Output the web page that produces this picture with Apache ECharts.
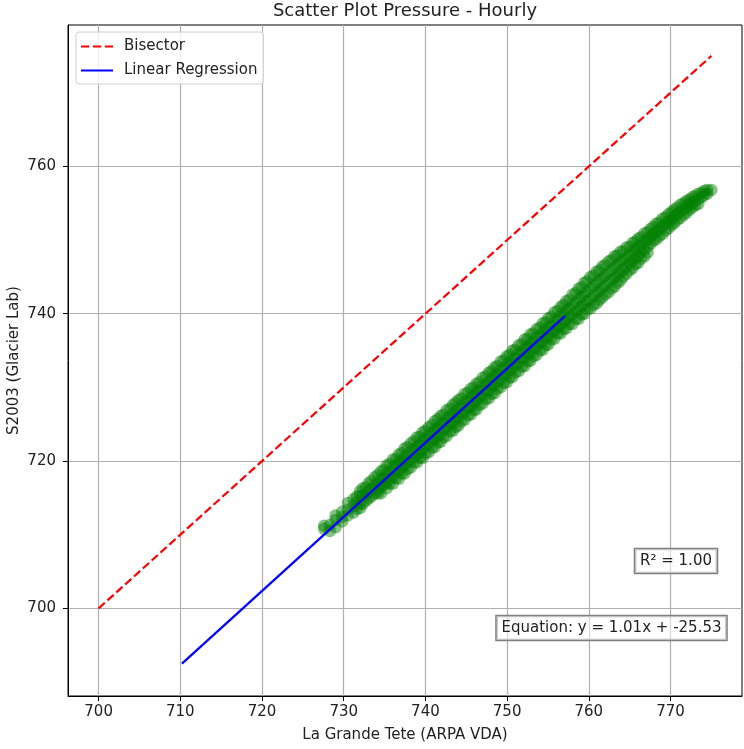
<!DOCTYPE html>
<html>
<head>
<meta charset="utf-8">
<script src="https://cdn.jsdelivr.net/npm/echarts@6/dist/echarts.min.js"></script>
<style>
html,body{margin:0;padding:0;background:#fff;}
#chart{width:744px;height:749px;}
</style>
</head>
<body>
<div id="chart"></div>
<script>
// ---- data ----
var titleText = 'Scatter Plot Pressure - Hourly';
var xAxisName = 'La Grande Tete (ARPA VDA)';
var yAxisName = 'S2003 (Glacier Lab)';
var xTicks = [700, 710, 720, 730, 740, 750, 760, 770];
var yTicks = [700, 720, 740, 760];
var bisectorPoints = [[700, 700], [775, 775]];
var regressionPoints = [[710.2, 692.5], [757.1, 739.7]];
var r2Text = 'R\u00b2 = 1.00';
var equationText = 'Equation: y = 1.01x + -25.53';
var scatterPointsA = [
  [727.6,710.8],[727.6,711.2],
  [728.3,711.3],[728.3,710.5],
  [729.0,712.0],[729.0,711.0],[729.0,712.6],
  [729.8,713.1],[729.8,712.4],[729.8,711.8],
  [730.5,714.3],[730.5,713.4],[730.5,712.6],
  [731.2,714.8],[731.2,713.9],[731.2,713.0],
  [732.0,715.3],[732.0,714.2],[732.0,713.6],[732.0,715.9],
  [732.7,716.4],[732.7,715.5],[732.7,714.6],
  [733.4,717.3],[733.4,716.2],[733.4,715.2],
  [734.2,718.1],[734.2,717.0],[734.2,716.1],[734.2,715.6],
  [734.9,718.8],[734.9,717.7],[734.9,716.8],
  [735.6,719.6],[735.6,718.6],[735.6,717.6],[735.6,716.9],
  [736.4,720.3],[736.4,719.4],[736.4,718.5],[736.4,717.7],
  [737.1,721.1],[737.1,720.0],[737.1,719.1],[737.1,718.3],
  [737.8,721.9],[737.8,720.8],[737.8,719.8],[737.8,718.9],
  [738.6,722.7],[738.6,721.6],[738.6,720.5],[738.6,719.8],
  [739.3,723.3],[739.3,722.2],[739.3,721.2],[739.3,720.4],
  [740.0,724.1],[740.0,723.0],[740.0,722.0],[740.0,721.0],
  [740.8,724.9],[740.8,723.8],[740.8,722.8],[740.8,721.8],
  [741.5,725.7],[741.5,724.5],[741.5,723.4],[741.5,722.5],
  [742.2,726.3],[742.2,725.2],[742.2,724.2],[742.2,723.2],
  [743.0,727.1],[743.0,726.0],[743.0,725.0],[743.0,724.0],
  [743.7,727.9],[743.7,726.7],[743.7,725.7],[743.7,724.6],
  [744.4,728.5],[744.4,727.4],[744.4,726.4],[744.4,725.4],
  [745.2,729.3],[745.2,728.2],[745.2,727.2],[745.2,726.2],
  [745.9,730.0],[745.9,728.9],[745.9,727.9],[745.9,726.9],
  [746.6,730.7],[746.6,729.6],[746.6,728.6],[746.6,727.6],
  [747.4,731.5],[747.4,730.4],[747.4,729.4],[747.4,728.4],
  [748.1,732.2],[748.1,731.1],[748.1,730.1],[748.1,729.1],
  [748.8,732.9],[748.8,731.8],[748.8,730.8],[748.8,729.8],
  [749.6,733.7],[749.6,732.6],[749.6,731.6],[749.6,730.6],
  [750.3,734.4],[750.3,733.3],[750.3,732.3],[750.3,731.3],
  [751.0,735.1],[751.0,734.0],[751.0,733.0],[751.0,732.0],
  [751.8,735.9],[751.8,734.8],[751.8,733.8],[751.8,732.8],
  [752.5,736.6],[752.5,735.5],[752.5,734.5],[752.5,733.5],
  [753.2,737.3],[753.2,736.2],[753.2,735.2],[753.2,734.2],
  [754.0,738.1],[754.0,737.0],[754.0,736.0],[754.0,735.0],
  [754.7,738.8],[754.7,737.7],[754.7,736.7],[754.7,735.7],
  [755.4,739.6],[755.4,738.4],[755.4,737.4],[755.4,736.5],
  [756.2,740.4],[756.2,739.2],[756.2,738.2],[756.2,737.3],
  [756.9,741.2],[756.9,740.0],[756.9,738.9],[756.9,737.9],
  [757.6,741.9],[757.6,740.7],[757.6,739.6],[757.6,738.6],
  [758.4,742.8],[758.4,741.5],[758.4,740.3],[758.4,739.3],
  [759.1,743.6],[759.1,742.3],[759.1,741.0],[759.1,739.9],
  [759.8,744.4],[759.8,743.0],[759.8,741.7],[759.8,740.6],
  [760.6,745.2],[760.6,743.8],[760.6,742.4],[760.6,741.2],
  [761.3,745.9],[761.3,744.5],[761.3,743.1],[761.3,741.9],
  [762.0,746.6],[762.0,745.2],[762.0,743.8],[762.0,742.6],
  [762.8,747.3],[762.8,745.9],[762.8,744.6],[762.8,743.4],
  [763.5,747.9],[763.5,746.6],[763.5,745.3],[763.5,744.2],
  [764.2,748.5],[764.2,747.3],[764.2,746.0],[764.2,745.0],
  [765.0,749.1],[765.0,748.0],[765.0,746.9],[765.0,745.9],
  [765.7,749.8],[765.7,748.7],[765.7,747.6],[765.7,746.7],
  [766.4,750.4],[766.4,749.4],[766.4,748.4],[766.4,747.5],
  [767.2,751.1],[767.2,750.1],[767.2,749.1],[767.2,748.3],
  [767.9,751.8],[767.9,750.8],[767.9,749.9],
  [768.6,752.4],[768.6,751.4],[768.6,750.5],
  [769.4,753.1],[769.4,752.2],[769.4,751.3],
  [770.1,753.8],[770.1,752.8],[770.1,752.0],
  [770.8,754.4],[770.8,753.5],[770.8,752.7],
  [771.6,755.0],[771.6,754.2],[771.6,753.4],
  [772.3,755.5],[772.3,754.8],[772.3,754.1],
  [773.0,756.0],[773.0,755.3],[773.0,754.7],
  [773.8,756.4],[773.8,755.8],
  [774.5,756.8],[774.5,756.3],
  [775.0,756.8]
];
var scatterPointsB = [
  [731.6,715.2],[731.6,714.4],[731.6,713.5],
  [732.35,716.3],[732.35,715.3],[732.35,714.2],
  [733.05,717.0],[733.05,715.9],[733.05,714.9],
  [733.8,717.8],[733.8,716.7],[733.8,715.6],
  [734.55,718.6],[734.55,717.5],[734.55,716.4],[734.55,715.6],
  [735.25,719.4],[735.25,718.2],[735.25,717.1],[735.25,716.3],
  [736.0,720.2],[736.0,719.0],[736.0,717.9],[736.0,716.9],
  [736.75,720.9],[736.75,719.8],[736.75,718.6],[736.75,717.6],
  [737.45,721.7],[737.45,720.5],[737.45,719.4],[737.45,718.3],
  [738.2,722.4],[738.2,721.2],[738.2,720.1],[738.2,719.1],
  [738.95,723.2],[738.95,722.0],[738.95,720.9],[738.95,719.8],
  [739.65,723.9],[739.65,722.7],[739.65,721.5],[739.65,720.4],
  [740.4,724.6],[740.4,723.4],[740.4,722.3],[740.4,721.2],
  [741.15,725.4],[741.15,724.2],[741.15,723.0],[741.15,721.9],
  [741.85,726.1],[741.85,724.9],[741.85,723.7],[741.85,722.6],
  [742.6,726.9],[742.6,725.6],[742.6,724.5],[742.6,723.4],
  [743.35,727.6],[743.35,726.4],[743.35,725.2],[743.35,724.1],
  [744.05,728.3],[744.05,727.1],[744.05,725.9],[744.05,724.8],
  [744.8,729.1],[744.8,727.9],[744.8,726.7],[744.8,725.6],
  [745.55,729.8],[745.55,728.6],[745.55,727.4],[745.55,726.3],
  [746.25,730.5],[746.25,729.3],[746.25,728.1],[746.25,727.0],
  [747.0,731.3],[747.0,730.1],[747.0,728.9],[747.0,727.8],
  [747.75,732.0],[747.75,730.8],[747.75,729.6],[747.75,728.5],
  [748.45,732.7],[748.45,731.5],[748.45,730.3],[748.45,729.2],
  [749.2,733.5],[749.2,732.3],[749.2,731.1],[749.2,730.0],
  [749.95,734.2],[749.95,733.0],[749.95,731.8],[749.95,730.7],
  [750.65,735.0],[750.65,733.7],[750.65,732.5],[750.65,731.4],
  [751.4,735.7],[751.4,734.5],[751.4,733.3],[751.4,732.2],
  [752.15,736.5],[752.15,735.2],[752.15,734.0],[752.15,732.9],
  [752.85,737.2],[752.85,735.9],[752.85,734.7],[752.85,733.6],
  [753.6,737.9],[753.6,736.7],[753.6,735.5],[753.6,734.4],
  [754.35,738.7],[754.35,737.4],[754.35,736.2],[754.35,735.1],
  [755.05,739.4],[755.05,738.1],[755.05,736.9],[755.05,735.8],
  [755.8,740.2],[755.8,738.9],[755.8,737.7],[755.8,736.6],
  [756.55,740.9],[756.55,739.7],[756.55,738.4],[756.55,737.3],
  [757.25,741.7],[757.25,740.4],[757.25,739.1],[757.25,738.0],
  [758.0,742.6],[758.0,741.2],[758.0,739.9],[758.0,738.6],
  [758.75,743.4],[758.75,742.0],[758.75,740.6],[758.75,739.3],
  [759.45,744.2],[759.45,742.7],[759.45,741.3],[759.45,740.0],
  [760.2,745.0],[760.2,743.5],[760.2,742.0],[760.2,740.7],
  [760.95,745.7],[760.95,744.2],[760.95,742.8],[760.95,741.4],
  [761.65,746.4],[761.65,744.9],[761.65,743.5],[761.65,742.2],
  [762.4,747.1],[762.4,745.6],[762.4,744.2],[762.4,742.9],
  [763.15,747.8],[763.15,746.3],[763.15,744.9],[763.15,743.7],
  [763.85,748.4],[763.85,747.0],[763.85,745.6],[763.85,744.5],
  [764.6,749.0],[764.6,747.6],[764.6,746.4],[764.6,745.4],
  [765.35,749.6],[765.35,748.4],[765.35,747.2],[765.35,746.2],
  [766.05,750.2],[766.05,749.1],[766.05,747.9],[766.05,746.9],
  [766.8,750.9],[766.8,749.8],[766.8,748.7],[766.8,747.8],
  [767.55,751.5],[767.55,750.5],[767.55,749.5],
  [768.25,752.2],[768.25,751.1],[768.25,750.1],
  [769.0,752.9],[769.0,751.8],[769.0,750.8],
  [769.75,753.5],[769.75,752.5],[769.75,751.6],
  [770.45,754.1],[770.45,753.2],[770.45,752.3],
  [771.2,754.8],[771.2,753.9],[771.2,753.0],
  [771.95,755.3],[771.95,754.5],[771.95,753.7],
  [772.65,755.8],[772.65,755.1],[772.65,754.4],
  [773.4,756.3],[773.4,755.6],[773.4,754.9],
  [774.15,756.7],[774.15,756.1]
];
var scatterPoints = scatterPointsA.concat(scatterPointsB);

var FONT = 'DejaVu Sans';
var chart = echarts.init(document.getElementById('chart'), null, {renderer: 'canvas'});
var option = {
  animation: false,
  backgroundColor: '#ffffff',
  textStyle: {fontFamily: FONT},
  grid: {left: 68, right: 2, top: 25, bottom: 53, show: true, borderColor: '#000', borderWidth: 1,
    backgroundColor: 'transparent', containLabel: false, outerBoundsMode: 'none'},
  legend: {
    orient: 'vertical', left: 76, top: 32,
    data: ['Bisector', 'Linear Regression'],
    itemWidth: 32, itemHeight: 14, itemGap: 9,
    padding: [7, 6, 6, 4],
    borderColor: '#d0d0d0', borderWidth: 1, borderRadius: 3,
    backgroundColor: 'rgba(255,255,255,0.8)',
    itemStyle: {opacity: 0},
    textStyle: {fontFamily: FONT, fontSize: 15, color: '#222', padding: [0, 0, 0, 6]}
  },
  xAxis: {
    type: 'value', min: 696.25, max: 778.75,
    name: xAxisName, nameLocation: 'middle', nameGap: 32,
    nameTextStyle: {fontFamily: FONT, fontSize: 15, color: '#222'},
    axisLine: {show: true, lineStyle: {color: '#000', width: 1}},
    axisTick: {show: true, length: 5, lineStyle: {color: '#000'}, customValues: xTicks},
    axisLabel: {fontFamily: FONT, fontSize: 15, color: '#222', margin: 9, customValues: xTicks},
    splitLine: {show: true, lineStyle: {color: '#b0b0b0', width: 1.2}}
  },
  yAxis: {
    type: 'value', min: 688.1, max: 779.2,
    name: yAxisName, nameLocation: 'middle', nameGap: 46, nameMoveOverlap: false,
    nameTextStyle: {fontFamily: FONT, fontSize: 15, color: '#222'},
    axisLine: {show: true, lineStyle: {color: '#000', width: 1}},
    axisTick: {show: true, length: 5, lineStyle: {color: '#000'}, customValues: yTicks},
    axisLabel: {fontFamily: FONT, fontSize: 15, color: '#222', margin: 12, customValues: yTicks},
    splitLine: {show: true, lineStyle: {color: '#b0b0b0', width: 1.2}}
  },
  series: [
    {
      name: 'Data', type: 'scatter', data: scatterPoints, symbolSize: 12.5,
      itemStyle: {color: 'rgba(0,128,0,0.6)', borderWidth: 0},
      z: 2, silent: true, large: false
    },
    {
      name: 'Bisector', type: 'line', data: bisectorPoints, symbol: 'none',
      lineStyle: {color: '#ff0000', width: 2.2, type: [8.3, 3.6]}, itemStyle: {color: '#ff0000'}, z: 3
    },
    {
      name: 'Linear Regression', type: 'line', data: regressionPoints, symbol: 'none',
      lineStyle: {color: '#0000ff', width: 2.2}, itemStyle: {color: '#0000ff'}, z: 4
    }
  ],
  graphic: [
    {type: 'text', z: 10, style: {text: titleText, x: 405, y: 11, textAlign: 'center', textVerticalAlign: 'middle', font: '18px "DejaVu Sans"', fill: '#222'}},
    {type: 'text', z: 10, style: {text: r2Text, x: 676, y: 561, textAlign: 'center', textVerticalAlign: 'middle', font: '15px "DejaVu Sans"', fill: '#222',
      backgroundColor: 'rgba(255,255,255,0.5)', borderColor: '#808080', borderWidth: 1.3, padding: [5, 5, 4, 5]}},
    {type: 'text', z: 10, style: {text: equationText, x: 611.5, y: 628, textAlign: 'center', textVerticalAlign: 'middle', font: '15px "DejaVu Sans"', fill: '#222',
      backgroundColor: 'rgba(255,255,255,0.5)', borderColor: '#808080', borderWidth: 1.3, padding: [5, 5, 4, 5]}}
  ]
};
chart.setOption(option);
</script>
</body>
</html>
